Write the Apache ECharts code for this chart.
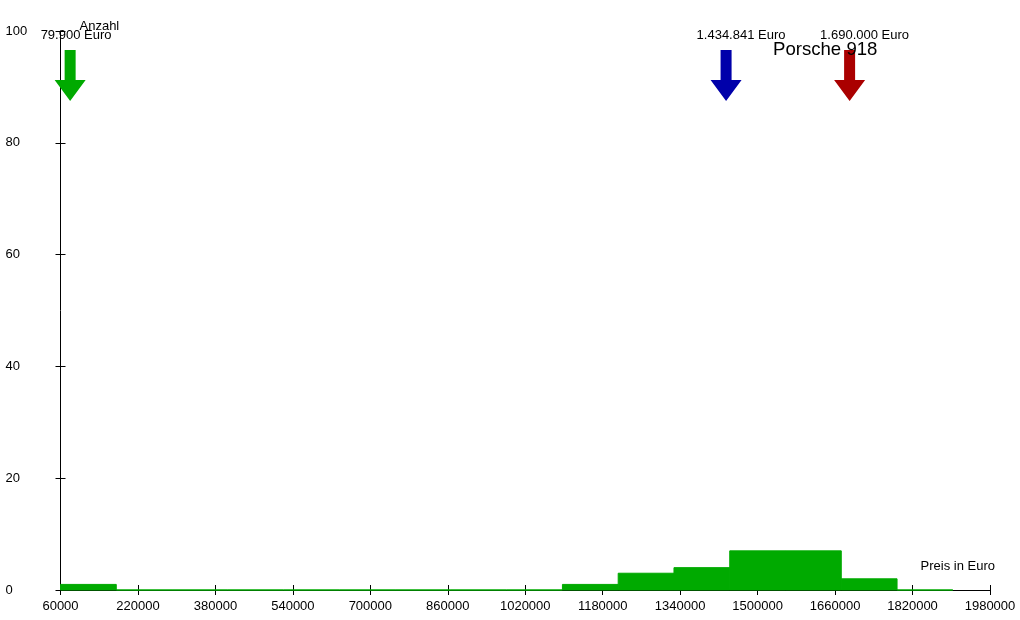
<!DOCTYPE html>
<html>
<head>
<meta charset="utf-8">
<script src="https://cdn.jsdelivr.net/npm/echarts@6/dist/echarts.min.js"></script>
<style>
html,body{margin:0;padding:0;background:#fff;}
#chart{width:1020px;height:620px;}
</style>
</head>
<body>
<div id="chart"></div>
<script>
// Histogram bin edges (Euro) and counts per bin
const binEdges = [60000,175200,290400,405600,520800,636000,751200,866400,981600,1096800,1212000,1327200,1442400,1557600,1672800,1788000,1903200];
const binCounts = [1,0,0,0,0,0,0,0,0,1,3,4,7,7,2,0];
// Marker arrows
const markerPrices = [79900, 1434841, 1690000];
const markerLabels = ['79.900 Euro', '1.434.841 Euro', '1.690.000 Euro'];
const markerColors = ['#00aa00', '#0000aa', '#aa0000'];
// Axis settings
const xMin = 60000, xMax = 1980000, xStep = 160000;
const yMin = 0, yMax = 100, yStep = 20;
const titleText = 'Porsche 918';
const xName = 'Preis in Euro';
const yName = 'Anzahl';

const FONT = "'Liberation Sans', Arial, sans-serif";
const barColor = '#00aa00';

const histData = binCounts.map((c, i) => [binEdges[i], binEdges[i + 1], c]);
const markerData = markerPrices.map((p, i) => [p, i]);

const chart = echarts.init(document.getElementById('chart'), null, {renderer: 'canvas'});
chart.setOption({
  animation: false,
  backgroundColor: '#ffffff',
  title: {
    text: titleText, left: 773, top: 40, padding: 0,
    textStyle: {fontFamily: FONT, fontSize: 18.6, fontWeight: 'normal', color: '#000'}
  },
  grid: {left: 60.5, right: 30, top: 31, bottom: 30, containLabel: false},
  xAxis: [{
    type: 'value', min: xMin, max: xMax, interval: xStep,
    name: xName, nameLocation: 'end', nameGap: 5,
    nameTextStyle: {fontFamily: FONT, fontSize: 13, color: '#000', align: 'right', verticalAlign: 'bottom', padding: [0, 0, 17, 0]},
    axisLine: {show: true, lineStyle: {color: '#000', width: 1}},
    axisTick: {show: true, length: 5, lineStyle: {color: '#000'}},
    axisLabel: {fontFamily: FONT, fontSize: 13, color: '#000', margin: 10, formatter: v => String(v)},
    splitLine: {show: false}
  }, {
    type: 'value', min: xMin, max: xMax, interval: xStep, position: 'bottom',
    axisLine: {show: false},
    axisTick: {show: true, inside: true, length: 5, lineStyle: {color: '#000'}},
    axisLabel: {show: false}, splitLine: {show: false}
  }],
  yAxis: [{
    type: 'value', min: yMin, max: yMax, interval: yStep,
    name: yName, nameLocation: 'end', nameGap: -2,
    nameTextStyle: {fontFamily: FONT, fontSize: 13, color: '#000', align: 'left', verticalAlign: 'bottom', padding: [0, 0, 0, 19]},
    axisLine: {show: true, lineStyle: {color: '#000', width: 1}},
    axisTick: {show: true, length: 5, lineStyle: {color: '#000'}},
    axisLabel: {fontFamily: FONT, fontSize: 13, color: '#000', margin: 55, align: 'left'},
    splitLine: {show: false}
  }, {
    type: 'value', min: yMin, max: yMax, interval: yStep, position: 'left',
    axisLine: {show: false},
    axisTick: {show: true, inside: true, length: 5, lineStyle: {color: '#000'}},
    axisLabel: {show: false}, splitLine: {show: false}
  }],
  series: [{
    type: 'custom',
    xAxisIndex: 0, yAxisIndex: 0,
    clip: false,
    data: histData,
    renderItem: function (params, api) {
      const p0 = api.coord([api.value(0), 0]);
      const p1 = api.coord([api.value(1), api.value(2)]);
      return {
        type: 'rect',
        shape: {x: p0[0], y: p1[1], width: p1[0] - p0[0], height: p0[1] - p1[1]},
        style: {fill: barColor, stroke: barColor, lineWidth: 1}
      };
    }
  }, {
    type: 'custom',
    xAxisIndex: 0, yAxisIndex: 0,
    clip: false,
    data: markerData,
    renderItem: function (params, api) {
      const idx = api.value(1);
      const p = api.coord([api.value(0), yMax]);
      const x = p[0], t = p[1];
      const col = markerColors[idx];
      return {
        type: 'group',
        children: [{
          type: 'polygon',
          shape: {points: [
            [x - 5.5, t + 19], [x + 5.5, t + 19], [x + 5.5, t + 49], [x + 15.5, t + 49],
            [x, t + 70], [x - 15.5, t + 49], [x - 5.5, t + 49]
          ]},
          style: {fill: col}
        }, {
          type: 'text',
          style: {
            x: x - 29.5, y: t + 4.5, text: markerLabels[idx], fill: '#000',
            font: '13px ' + FONT, align: 'left', verticalAlign: 'middle'
          }
        }]
      };
    }
  }]
});
</script>
</body>
</html>
